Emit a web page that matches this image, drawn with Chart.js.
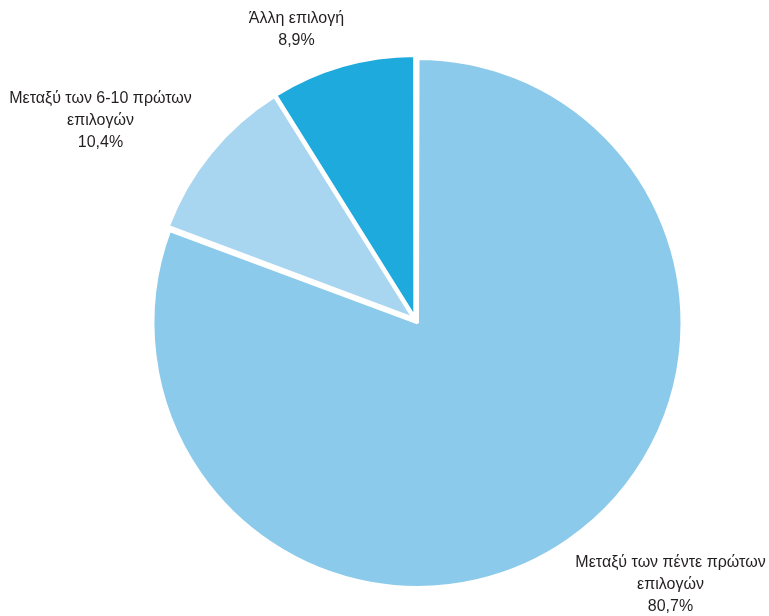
<!DOCTYPE html>
<html>
<head>
<meta charset="utf-8">
<script src="https://cdn.jsdelivr.net/npm/chart.js@4.4.1/dist/chart.umd.min.js"></script>
<style>
  html, body { margin: 0; padding: 0; background: #fff; }
  #wrap { width: 769px; height: 616px; }
</style>
</head>
<body>
<div id="wrap"><canvas id="pieChart" width="769" height="616"></canvas></div>
<script>
// slice data, clockwise from 12 o'clock
const categories = [
  ['Μεταξύ των πέντε πρώτων', 'επιλογών'],
  ['Μεταξύ των 6-10 πρώτων', 'επιλογών'],
  ['Άλλη επιλογή']
];
const shares = [80.7, 10.4, 8.9];
const shareLabels = ['80,7%', '10,4%', '8,9%'];
const sliceColors = ['#8bcaea', '#a8d5ef', '#1eaadc'];

// where each label block sits, relative to the pie centre
const labelOffsets = [[255, 265], [-315, -199], [-119, -290]];

const outsideLabels = {
  id: 'outsideLabels',
  afterDraw(chart) {
    const ctx = chart.ctx;
    const cx = (chart.chartArea.left + chart.chartArea.right) / 2;
    const cy = (chart.chartArea.top + chart.chartArea.bottom) / 2;
    const lh = 22;
    ctx.save();
    ctx.font = '16px "Liberation Sans", Arial, sans-serif';
    ctx.fillStyle = '#231f20';
    ctx.textAlign = 'center';
    ctx.textBaseline = 'middle';
    categories.forEach((lines, i) => {
      const all = lines.concat([shareLabels[i]]);
      const x = cx + labelOffsets[i][0];
      const y0 = cy + labelOffsets[i][1] - (all.length - 1) * lh / 2;
      all.forEach((t, k) => ctx.fillText(t, x, y0 + k * lh));
    });
    ctx.restore();
  }
};

new Chart(document.getElementById('pieChart').getContext('2d'), {
  type: 'pie',
  data: {
    labels: categories.map(l => l.join(' ')),
    datasets: [{
      data: shares,
      backgroundColor: sliceColors,
      borderColor: '#ffffff',
      borderWidth: 3,
      offset: [14, 10, 10]   // chart.js moves arcs by offset/4
    }]
  },
  options: {
    responsive: false,
    animation: false,
    radius: 261,
    layout: { padding: { left: 80, right: 18, top: 34, bottom: 10 } },
    plugins: {
      legend: { display: false },
      tooltip: { enabled: false }
    }
  },
  plugins: [outsideLabels]
});
</script>
</body>
</html>
